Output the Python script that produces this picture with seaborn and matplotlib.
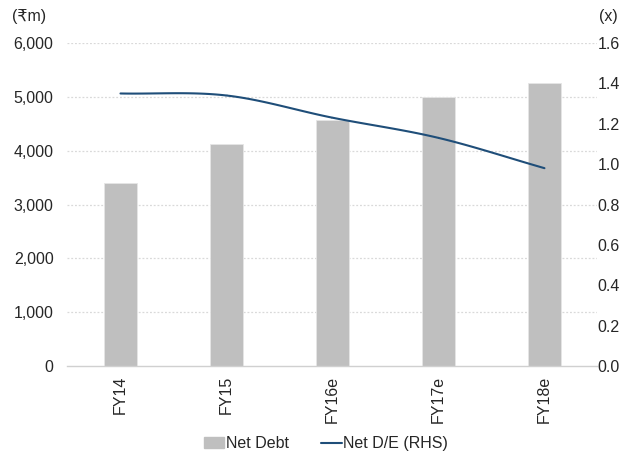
import numpy as np
import pandas as pd
import matplotlib
matplotlib.use("Agg")
import matplotlib.pyplot as plt
import seaborn as sns
from matplotlib.patches import Patch
from matplotlib.lines import Line2D

years = ["FY14", "FY15", "FY16e", "FY17e", "FY18e"]
net_debt = [3400, 4130, 4570, 4990, 5260]
net_de = [1.35, 1.34, 1.23, 1.13, 0.98]
left_ticks = [0, 1000, 2000, 3000, 4000, 5000, 6000]
right_ticks = [0.0, 0.2, 0.4, 0.6, 0.8, 1.0, 1.2, 1.4, 1.6]

sns.set_theme(style="white")
plt.rcParams["font.family"] = ["Liberation Sans Narrow", "Liberation Sans", "DejaVu Sans"]

BAR = "#BFBFBF"
LINE = "#1F4E79"
GRID = "#D9D9D9"
FS = 11.5
LW = 1.5

fig = plt.figure(figsize=(6.39, 4.59), dpi=100)
ax = fig.add_axes([0.1056, 0.2026, 0.8294, 0.7037])

df = pd.DataFrame({"year": years, "debt": net_debt})
sns.barplot(data=df, x="year", y="debt", color=BAR, width=0.31, saturation=1,
            edgecolor="#E6E6E6", linewidth=0.6, ax=ax, zorder=2)
ax.set_xlim(-0.5, len(years) - 0.5)
ax.set_ylim(0, 6000)
ax.set_yticks(left_ticks)
ax.set_yticklabels([f"{v:,}" for v in left_ticks], fontsize=FS)
ax.set_xticks(range(len(years)))
ax.set_xticklabels(years, rotation=90, fontsize=FS)
ax.tick_params(axis="x", length=0, pad=7)
ax.tick_params(axis="y", length=0, pad=10)
ax.set_xlabel("")
ax.set_ylabel("")
for v in left_ticks[1:]:
    ax.axhline(v, color=GRID, lw=0.9, ls=(0, (1.5, 1.5)), zorder=0)
for s in ["top", "left", "right"]:
    ax.spines[s].set_visible(False)
ax.spines["bottom"].set_color("#D0D0D0")
ax.spines["bottom"].set_linewidth(1.0)

ax2 = ax.twinx()
ax2.set_ylim(0, 1.6)
ax2.set_yticks(right_ticks)
ax2.set_yticklabels([f"{v:.1f}" for v in right_ticks], fontsize=FS)
ax2.tick_params(axis="y", length=0, pad=0)
for s in ax2.spines.values():
    s.set_visible(False)

# smoothed (Catmull-Rom) curve through the D/E points
xs = np.arange(len(net_de), dtype=float)
ys = np.array(net_de, dtype=float)
px = np.concatenate([[2 * xs[0] - xs[1]], xs, [2 * xs[-1] - xs[-2]]])
py = np.concatenate([[2 * ys[0] - ys[1]], ys, [2 * ys[-1] - ys[-2]]])
cx, cy = [], []
t = np.linspace(0, 1, 30)
for i in range(1, len(px) - 2):
    for p, out in ((px, cx), (py, cy)):
        p0, p1, p2, p3 = p[i - 1], p[i], p[i + 1], p[i + 2]
        out.extend(0.5 * ((2 * p1) + (-p0 + p2) * t + (2 * p0 - 5 * p1 + 4 * p2 - p3) * t ** 2
                          + (-p0 + 3 * p1 - 3 * p2 + p3) * t ** 3))
sns.lineplot(x=cx, y=cy, color=LINE, lw=LW, ax=ax2, sort=False, estimator=None)

fig.text(0.018, 0.965, "(\u20b9m)", fontsize=FS, ha="left", va="center")
fig.text(0.938, 0.965, "(x)", fontsize=FS, ha="left", va="center")

handles = [Patch(facecolor=BAR, edgecolor=BAR),
           Line2D([0], [0], color=LINE, lw=LW)]
fig.legend(handles, ["Net Debt", "Net D/E (RHS)"], loc="center", bbox_to_anchor=(0.51, 0.033),
           ncol=2, frameon=False, fontsize=FS, handlelength=1.3, handletextpad=0.1,
           columnspacing=2.0, handleheight=0.7)

fig.savefig("out.png", dpi=100)
